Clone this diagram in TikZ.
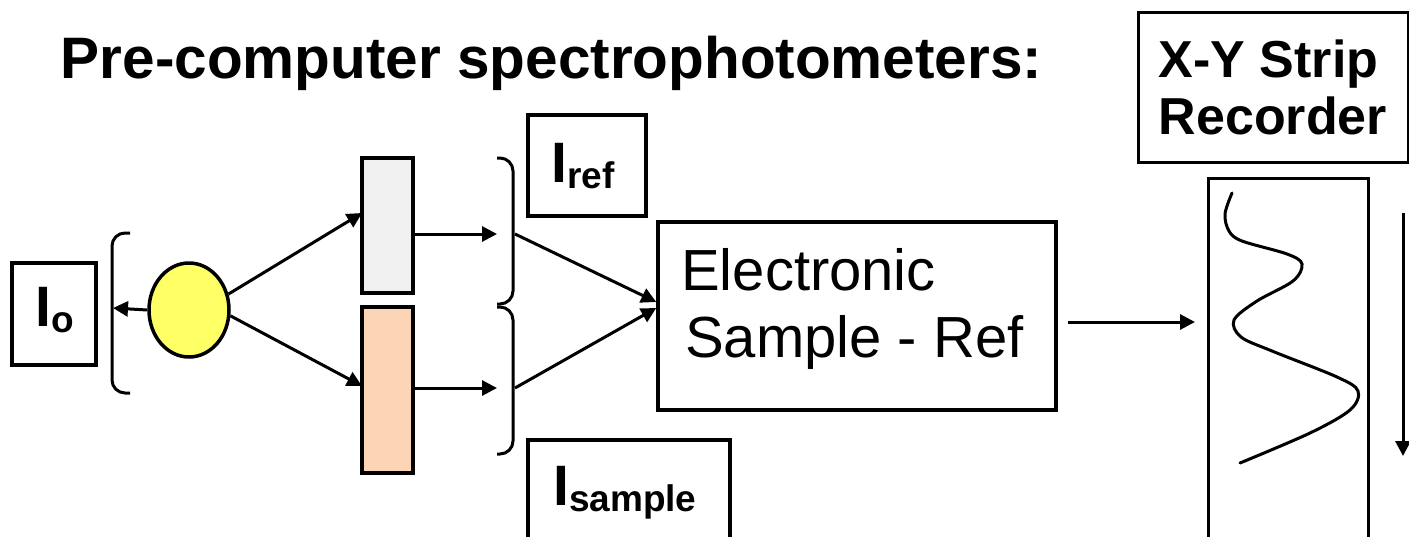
\documentclass[tikz,border=0pt]{standalone}
\usepackage{fontspec}
\setmainfont{Liberation Sans}
\usetikzlibrary{arrows.meta,shapes.geometric}
\definecolor{bulb}{HTML}{FFFF66}
\definecolor{refgray}{HTML}{F0F0F0}
\definecolor{peach}{HTML}{FBD5B5}
\newcommand\lowsub[1]{\raisebox{-6.5pt}{\fontsize{37}{37}\selectfont #1}}
\tikzset{
  box/.style={draw, line width=3.5pt, inner sep=0pt},
  arr/.style={line width=3pt, -{Triangle[length=15pt,width=15pt]}},
  brk/.style={line width=3pt, rounded corners=13pt},
  big/.style={font=\fontsize{52}{57}\selectfont\bfseries},
  itxt/.style={anchor=base west, inner sep=0pt, font=\fontsize{57}{60}\selectfont\bfseries},
  etxt/.style={anchor=base west, inner sep=0pt, font=\fontsize{58}{60}\selectfont},
}
\begin{document}
\begin{tikzpicture}[x=1pt,y=-1pt]
\path[use as bounding box] (0,0) rectangle (1409,536);
\clip (0,0) rectangle (1409,536);
% title
\node[anchor=base west, inner sep=0pt, font=\fontsize{58.5}{60}\selectfont\bfseries] (title) at (60.5,78) {Pre-computer spectrophotometers:};
% X-Y recorder label
\node[box, line width=3pt, minimum width=270pt, minimum height=150pt, big, align=left] (xy) at (1273,87) {X-Y Strip\\Recorder};
% Io box
\node[box, minimum width=84pt, minimum height=102pt] (io) at (54,314) {};
\node[itxt] (iot) at (35,326) {I\lowsub{o}};
% left bracket
\draw[brk] (130,233) -- (112,233) -- (112,393) -- (130,393);
\coordinate (lbr) at (113,308);
% source
\node[ellipse, draw, line width=3.5pt, fill=bulb, minimum width=80pt, minimum height=94pt] (src) at (189,310) {};
% ref and sample cells
\node[box, fill=refgray, minimum width=51pt, minimum height=135pt] (refc) at (387.5,225.5) {};
\node[box, fill=peach, minimum width=51pt, minimum height=166pt] (smpc) at (387.5,390) {};
\coordinate (refin) at (362,213);
\coordinate (smpin) at (362,386);
\draw[arr] (src.west) -- (lbr);
\draw[arr] (src.22) -- (refin);
\draw[arr] (src.-8) -- (smpin);
% right brackets
\draw[brk] (497,158) -- (513,158) -- (513,304) -- (497,304);
\draw[brk] (497,307) -- (513,307) -- (513,454) -- (497,454);
\coordinate (rbr1) at (497,234);
\coordinate (rbr2) at (497,388);
\coordinate (rbo1) at (515,234);
\coordinate (rbo2) at (515,388);
\draw[arr] (refc.east |- rbr1) -- (rbr1);
\draw[arr] (smpc.east |- rbr2) -- (rbr2);
% labels
\node[box, minimum width=118pt, minimum height=101pt] (iref) at (587,165.5) {};
\node[itxt] (ireft) at (551,182) {I\lowsub{ref}};
\node[box, minimum width=202pt, minimum height=120pt] (ismp) at (629,500) {};
\node[itxt] (ismpt) at (553,505) {I\lowsub{sample}};
% electronic box
\node[box, minimum width=398pt, minimum height=188pt] (elec) at (857,316) {};
\node[etxt] (elt1) at (681,290) {Electronic};
\node[etxt] (elt2) at (685,357) {Sample - Ref};
\draw[arr] (rbo1) -- ([yshift=14pt]elec.west);
\draw[arr] (rbo2) -- ([yshift=8pt]elec.west);
% strip chart
\node[box, line width=3pt, minimum width=160pt, minimum height=367pt] (strip) at (1288,361.5) {};
\coordinate (eout) at (1068,322);
\coordinate (sin) at (1195,322);
\draw[arr] (eout) -- (sin);
\draw[line width=3pt, line cap=round] plot[smooth, tension=0.55] coordinates {
 (1232,193) (1225,214) (1229,231) (1242,241) (1287,254) (1302,264) (1293,281) (1257,301)
 (1234,320) (1241,337) (1272,351) (1337,377) (1358,391) (1350,410) (1310,433) (1240,463)};
\coordinate (dtop) at (1403,213);
\coordinate (dbot) at (1403,456);
\draw[arr] (dtop) -- (dbot);
\end{tikzpicture}
\end{document}
